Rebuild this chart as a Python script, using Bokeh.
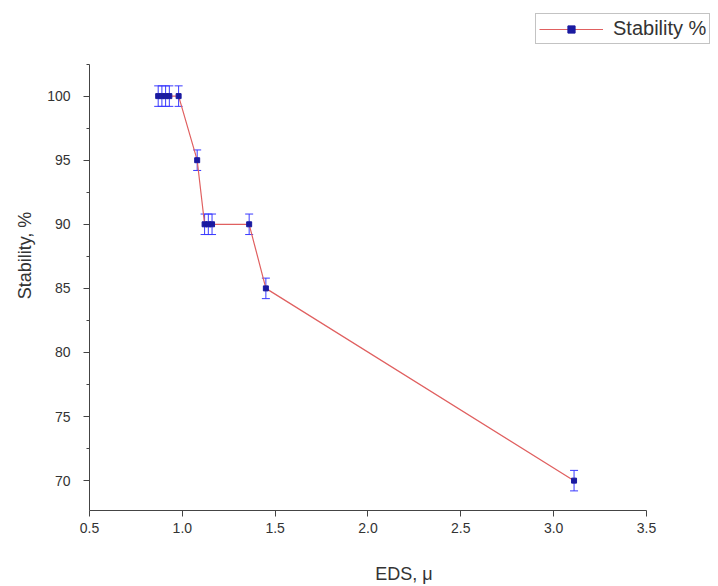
from bokeh.plotting import figure
from bokeh.models import (ColumnDataSource, Whisker, Legend, LegendItem, Range1d,
                          FixedTicker, TeeHead)
from bokeh.embed import file_html
from bokeh.resources import INLINE

eds = [0.87, 0.89, 0.91, 0.93, 0.98, 1.08, 1.12, 1.14, 1.16, 1.36, 1.45, 3.11]
stability = [100, 100, 100, 100, 100, 95, 90, 90, 90, 90, 85, 70]
err = [0.8] * len(eds)

src = ColumnDataSource(dict(
    x=eds, y=stability,
    lo=[s - e for s, e in zip(stability, err)],
    hi=[s + e for s, e in zip(stability, err)],
))

p = figure(width=718, height=586, output_backend="svg", toolbar_location=None,
           x_range=Range1d(0.5, 3.888), y_range=Range1d(67.67, 107.46),
           min_border_left=89, min_border_right=0, min_border_top=0, min_border_bottom=74)
p.outline_line_color = None
p.xgrid.visible = False
p.ygrid.visible = False

font = "Liberation Sans"
for ax in (p.xaxis[0], p.yaxis[0]):
    ax.axis_line_color = "#444444"
    ax.major_tick_line_color = "#444444"
    ax.minor_tick_line_color = "#444444"
    ax.major_tick_out = 6
    ax.major_tick_in = 0
    ax.minor_tick_out = 3
    ax.minor_tick_in = 0
    ax.major_label_text_font = font
    ax.major_label_text_font_size = "14px"
    ax.major_label_text_color = "#333333"
    ax.axis_label_text_font = font
    ax.axis_label_text_font_size = "18px"
    ax.axis_label_text_font_style = "normal"
    ax.axis_label_text_color = "#333333"

p.xaxis.bounds = (0.5, 3.5)
p.yaxis.bounds = (67.67, 102.49)
p.xaxis.ticker = FixedTicker(ticks=[0.5, 1.0, 1.5, 2.0, 2.5, 3.0, 3.5])
p.xaxis.major_label_overrides = {0.5: "0.5", 1.0: "1.0", 1.5: "1.5", 2.0: "2.0",
                                 2.5: "2.5", 3.0: "3.0", 3.5: "3.5"}
p.yaxis.ticker = FixedTicker(ticks=[70, 75, 80, 85, 90, 95, 100],
                             minor_ticks=[72.5, 77.5, 82.5, 87.5, 92.5, 97.5, 102.5])
p.xaxis.axis_label = "EDS, \u03bc"
p.yaxis.axis_label = "Stability, %"
p.xaxis.axis_label_standoff = 28
p.yaxis.axis_label_standoff = 9
p.yaxis.major_label_standoff = 13
p.xaxis.major_label_standoff = 6

line = p.line("x", "y", source=src, line_color="#e06060", line_width=1.2)
w = Whisker(base="x", lower="lo", upper="hi", source=src, line_color="#3a3aff", line_width=1)
w.upper_head = TeeHead(size=8, line_color="#3a3aff", line_width=1)
w.lower_head = TeeHead(size=8, line_color="#3a3aff", line_width=1)
p.add_layout(w)
pts = p.scatter("x", "y", source=src, marker="square", size=5, fill_color="#1a1aa0",
                line_color="#1a1aa0")

legend = Legend(items=[LegendItem(label="Stability %", renderers=[line, pts])],
                location=(446, 466), orientation="vertical")
legend.label_text_font = font
legend.label_text_font_size = "20px"
legend.label_text_color = "#333333"
legend.border_line_color = "#888888"
legend.glyph_width = 64
legend.glyph_height = 18
legend.label_height = 18
legend.padding = 3
legend.margin = 0
legend.spacing = 0
legend.label_standoff = 10
p.add_layout(legend, "center")

open("out.html", "w").write(file_html(p, INLINE))
